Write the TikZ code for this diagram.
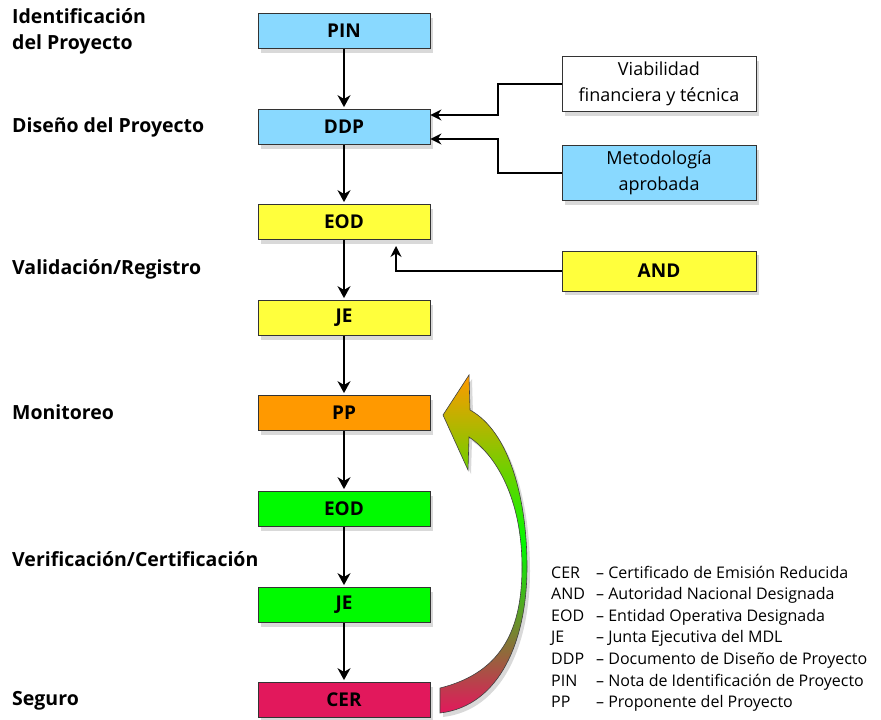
\documentclass[tikz,border=0pt]{standalone}
\usepackage{fontspec}
\setmainfont{Open Sans}
\usetikzlibrary{arrows.meta,shadows}

\definecolor{celeste}{RGB}{137,217,255}
\definecolor{amarillo}{RGB}{255,255,60}
\definecolor{naranja}{RGB}{255,153,0}
\definecolor{verde}{RGB}{0,250,0}
\definecolor{carmesi}{RGB}{226,24,92}

\tikzset{
  sombra/.style={drop shadow={opacity=0.3,shadow xshift=3pt,shadow yshift=-4pt}},
  caja/.style={draw=black!80, line width=0.8pt, minimum width=172pt, minimum height=35pt,
    font=\bfseries\fontsize{19}{22}\selectfont, sombra},
  entrada/.style={draw=black!80, line width=0.8pt, minimum width=194pt, align=center,
    font=\fontsize{18}{26}\selectfont, sombra},
  etapa/.style={anchor=west, align=left, inner sep=0pt, font=\bfseries\fontsize{19.5}{26}\selectfont},
  flecha/.style={line width=1.6pt, -{Stealth[length=12pt,width=13pt]}, shorten >=2pt},
  conector/.style={line width=1.4pt, -{Stealth[length=11pt,width=11pt]}},
  leyenda/.style={anchor=base west, inner sep=0pt, font=\fontsize{16}{18}\selectfont}
}

\begin{document}
\begin{tikzpicture}[x=1pt,y=-1pt]
  \useasboundingbox (0,0) rectangle (881,720);

  % etapas
  \node[etapa] (e1) at (12,31) {Identificación\\del Proyecto};
  \node[etapa] (e2) at (12,127) {Diseño del Proyecto};
  \node[etapa] (e3) at (12,269) {Validación/Registro};
  \node[etapa] (e4) at (12,412) {Monitoreo};
  \node[etapa] (e5) at (12,559) {Verificación/Certificación};
  \node[etapa] (e6) at (12,701) {Seguro};

  % cajas del ciclo
  \node[caja, fill=celeste] (pin) at (344,31) {PIN};
  \node[caja, fill=celeste] (ddp) at (344,127) {DDP};
  \node[caja, fill=amarillo] (eod1) at (344,222) {EOD};
  \node[caja, fill=amarillo] (je1) at (344,318) {JE};
  \node[caja, fill=naranja] (pp) at (344,413) {PP};
  \node[caja, fill=verde] (eod2) at (344,509) {EOD};
  \node[caja, fill=verde] (je2) at (344,605) {JE};
  \node[caja, fill=carmesi] (cer) at (344,700) {CER};

  \draw[flecha] (pin) -- (ddp);
  \draw[flecha] (ddp) -- (eod1);
  \draw[flecha] (eod1) -- (je1);
  \draw[flecha] (je1) -- (pp);
  \draw[flecha] (pp) -- (eod2);
  \draw[flecha] (eod2) -- (je2);
  \draw[flecha] (je2) -- (cer);

  % entradas
  \node[entrada, fill=white, minimum height=55pt] (viab) at (659,84) {Viabilidad\\financiera y técnica};
  \node[entrada, fill=celeste, minimum height=55pt] (meto) at (659,173) {Metodología\\aprobada};
  \node[entrada, fill=amarillo, minimum height=40pt, font=\bfseries\fontsize{19}{22}\selectfont] (and) at (659,271) {AND};

  \coordinate (codo1) at (498,115);
  \coordinate (codo2) at (498,139);
  \coordinate (codo3) at (396,246);
  \draw[conector] (viab.west) -| (codo1) -- (ddp.east |- codo1);
  \draw[conector] (meto.west) -| (codo2) -- (ddp.east |- codo2);
  \draw[conector] (and.west) -| (codo3);

  % flecha de retorno
  \path[sombra, top color=naranja, bottom color=carmesi, middle color=verde, draw=black!75, line width=0.6pt]
    (440,688) .. controls (505,672) and (522,625) .. (522,567)
    .. controls (522,505) and (500,458) .. (469,437)
    -- (468,470) -- (443,415) -- (469,375) -- (470,410)
    .. controls (510,432) and (527,500) .. (527,567)
    .. controls (527,640) and (500,706) .. (440,713) -- cycle;

  % leyenda
  \foreach \ab/\txt [count=\i] in {CER/Certificado de Emisión Reducida,
      AND/Autoridad Nacional Designada, EOD/Entidad Operativa Designada,
      JE/Junta Ejecutiva del MDL, DDP/Documento de Diseño de Proyecto,
      PIN/Nota de Identificación de Proyecto, PP/Proponente del Proyecto}{
    \node[leyenda] (ab\i) at (551,556.5+21.6*\i) {\ab};
    \node[leyenda] (tx\i) at (596,556.5+21.6*\i) {-- \txt};
  }
\end{tikzpicture}
\end{document}
